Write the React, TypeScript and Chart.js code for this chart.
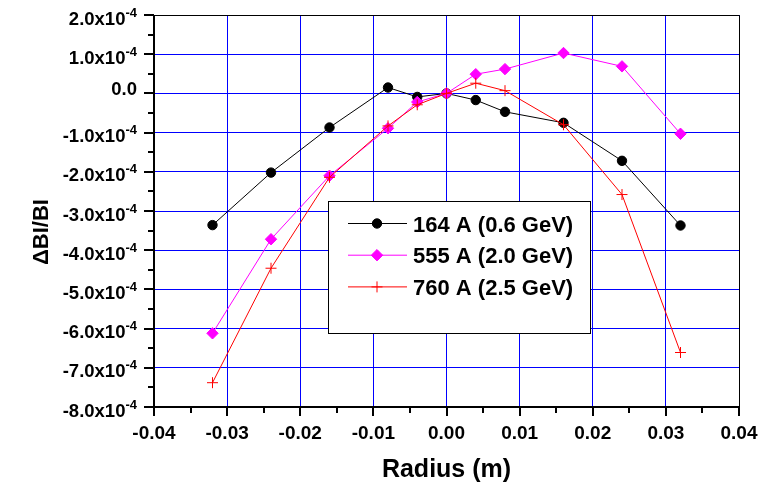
import React, { useEffect, useRef } from 'react';
import { Chart, registerables } from 'chart.js';
import { drawPoint } from 'chart.js/helpers';

Chart.register(...registerables);

// ---- data ----
const radiusM = [-0.032, -0.024, -0.016, -0.008, -0.004, 0, 0.004, 0.008, 0.016, 0.024, 0.032];
const dB164 = [-3.36e-4, -2.02e-4, -0.87e-4, 0.15e-4, -0.09e-4, 0.0, -0.17e-4, -0.47e-4, -0.75e-4, -1.72e-4, -3.37e-4];
const dB555 = [-6.12e-4, -3.72e-4, -2.1e-4, -0.89e-4, -0.22e-4, 0.0, 0.49e-4, 0.62e-4, 1.03e-4, 0.69e-4, -1.03e-4];
const dB760 = [-7.38e-4, -4.46e-4, -2.14e-4, -0.83e-4, -0.29e-4, 0.0, 0.26e-4, 0.07e-4, -0.8e-4, -2.58e-4, -6.61e-4];
const seriesLabels = ['164 A (0.6 GeV)', '555 A (2.0 GeV)', '760 A (2.5 GeV)'];
const xTitle = 'Radius (m)';
const yTitle = '\u0394BI/BI';
const xRange = [-0.04, 0.04];
const yRange = [-8e-4, 2e-4];
const xStep = 0.01;
const yStep = 1e-4;

const FONT = '"Liberation Sans", Arial, sans-serif';

const pts = (ys: number[]) => radiusM.map((x, i) => ({ x, y: ys[i] }));

const originPlugin = {
  id: 'originFrame',
  afterDraw(chart: any) {
    const { ctx, chartArea } = chart;
    const { left, right, top, bottom } = chartArea;
    const xs = chart.scales.x;
    const ys = chart.scales.y;
    const L = Math.round(left);
    const B = Math.round(bottom);
    const R = Math.round(right) + 0.5;
    const T = Math.round(top) + 0.5;
    ctx.save();
    ctx.strokeStyle = '#000';
    ctx.lineWidth = 1;
    ctx.beginPath();
    ctx.moveTo(L, T);
    ctx.lineTo(R, T);
    ctx.lineTo(R, B);
    ctx.stroke();

    ctx.lineWidth = 2;
    ctx.beginPath();
    ctx.moveTo(L, Math.round(top));
    ctx.lineTo(L, B);
    ctx.lineTo(Math.round(right) + 1, B);
    ctx.stroke();

    // ticks
    const yTicks = ys.ticks;
    const xTicks = xs.ticks;
    ctx.beginPath();
    for (let i = 0; i < yTicks.length; i++) {
      const py = Math.round(ys.getPixelForTick(i));
      ctx.moveTo(L - 10, py);
      ctx.lineTo(L, py);
      if (i < yTicks.length - 1) {
        const pm = Math.round((ys.getPixelForTick(i) + ys.getPixelForTick(i + 1)) / 2);
        ctx.moveTo(L - 6, pm);
        ctx.lineTo(L, pm);
      }
    }
    for (let i = 0; i < xTicks.length; i++) {
      const px = Math.round(xs.getPixelForTick(i));
      ctx.moveTo(px, B);
      ctx.lineTo(px, B + 9);
      if (i < xTicks.length - 1) {
        const pm = Math.round((xs.getPixelForTick(i) + xs.getPixelForTick(i + 1)) / 2);
        ctx.moveTo(pm, B);
        ctx.lineTo(pm, B + 6);
      }
    }
    ctx.stroke();

    // y labels
    ctx.fillStyle = '#000';
    const labelRight = L - 17;
    for (let i = 0; i < yTicks.length; i++) {
      const py = ys.getPixelForTick(i);
      const k = Math.round(yTicks[i].value * 1e5) / 10;
      if (Math.abs(k) < 1e-9) {
        ctx.font = `bold 18.5px ${FONT}`;
        ctx.textAlign = 'right';
        ctx.textBaseline = 'alphabetic';
        ctx.fillText('0.0', labelRight, py + 2);
      } else {
        const main = k.toFixed(1) + 'x10';
        const sup = '-4';
        ctx.font = `bold 13px ${FONT}`;
        const supW = ctx.measureText(sup).width;
        ctx.textAlign = 'left';
        ctx.textBaseline = 'alphabetic';
        ctx.fillText(sup, labelRight - supW, py + 1.5);
        ctx.font = `bold 18.5px ${FONT}`;
        ctx.textAlign = 'right';
        ctx.fillText(main, labelRight - supW, py + 9.5);
      }
    }

    // x labels
    ctx.font = `bold 19px ${FONT}`;
    ctx.textAlign = 'center';
    ctx.textBaseline = 'alphabetic';
    for (let i = 0; i < xTicks.length; i++) {
      const px = xs.getPixelForTick(i);
      let v = Math.round(xTicks[i].value * 100) / 100;
      if (Math.abs(v) < 1e-9) v = 0;
      ctx.fillText(v.toFixed(2), px, B + 32);
    }

    // titles
    ctx.font = `bold 25px ${FONT}`;
    ctx.fillText(xTitle, (left + right) / 2, 477);
    ctx.save();
    ctx.translate(48, (top + bottom) / 2 + 21);
    ctx.rotate(-Math.PI / 2);
    ctx.font = `bold 22px ${FONT}`;
    ctx.textAlign = 'center';
    ctx.fillText(yTitle, 0, 0);
    ctx.restore();

    // legend
    const bx = 328.5, by = 201.5, bw = 262, bh = 132;
    ctx.fillStyle = '#fff';
    ctx.fillRect(bx, by, bw, bh);
    ctx.lineWidth = 1;
    ctx.strokeStyle = '#000';
    ctx.strokeRect(bx, by, bw, bh);
    const dsets = chart.data.datasets;
    for (let i = 0; i < dsets.length; i++) {
      const d = dsets[i];
      const ey = 223.5 + i * 31.7;
      ctx.strokeStyle = d.borderColor;
      ctx.fillStyle = d.backgroundColor;
      ctx.lineWidth = 1;
      ctx.beginPath();
      ctx.moveTo(348, ey);
      ctx.lineTo(407, ey);
      ctx.stroke();
      drawPoint(ctx, { pointStyle: d.pointStyle, radius: d.pointRadius, borderWidth: 1, rotation: 0 }, 377, ey);
      ctx.fillStyle = '#000';
      ctx.font = `bold 22px ${FONT}`;
      ctx.textAlign = 'left';
      ctx.textBaseline = 'alphabetic';
      ctx.fillText(d.label, 413, ey + 8);
    }
    ctx.restore();
  },
};

export default function App() {
  const canvasRef = useRef<HTMLCanvasElement | null>(null);

  useEffect(() => {
    document.body.style.margin = '0';
    const canvas = canvasRef.current;
    if (!canvas) return;
    const chart = new Chart(canvas, {
      type: 'line',
      data: {
        datasets: [
          {
            label: seriesLabels[0],
            data: pts(dB164),
            borderColor: '#000000',
            backgroundColor: '#000000',
            borderWidth: 1,
            pointStyle: 'circle',
            pointRadius: 4.7,
            pointBorderWidth: 1,
            order: 3,
          },
          {
            label: seriesLabels[1],
            data: pts(dB555),
            borderColor: '#ff00ff',
            backgroundColor: '#ff00ff',
            borderWidth: 1,
            pointStyle: 'rectRot',
            pointRadius: 5.7,
            pointBorderWidth: 1,
            order: 2,
          },
          {
            label: seriesLabels[2],
            data: pts(dB760),
            borderColor: '#ff0000',
            backgroundColor: '#ff0000',
            borderWidth: 1,
            pointStyle: 'cross',
            pointRadius: 5.5,
            pointBorderWidth: 1,
            order: 1,
          },
        ],
      } as any,
      options: {
        responsive: false,
        animation: false,
        events: [],
        layout: { padding: { left: 0, right: 34, top: 15, bottom: 0 } },
        plugins: { legend: { display: false }, tooltip: { enabled: false } },
        scales: {
          x: {
            type: 'linear',
            min: xRange[0],
            max: xRange[1],
            ticks: { display: false, stepSize: xStep },
            grid: { color: '#0000ff', lineWidth: 1, drawTicks: false },
            border: { display: false },
            afterFit: (s: any) => { s.height = 82; },
          },
          y: {
            type: 'linear',
            min: yRange[0],
            max: yRange[1],
            ticks: { display: false, stepSize: yStep },
            grid: { color: '#0000ff', lineWidth: 1, drawTicks: false },
            border: { display: false },
            afterFit: (s: any) => { s.width = 154; },
          },
        },
      } as any,
      plugins: [originPlugin],
    });
    return () => chart.destroy();
  }, []);

  return (
    <div style={{ width: 773, height: 489, background: '#fff' }}>
      <canvas ref={canvasRef} width={773} height={489} style={{ display: 'block' }} />
    </div>
  );
}
